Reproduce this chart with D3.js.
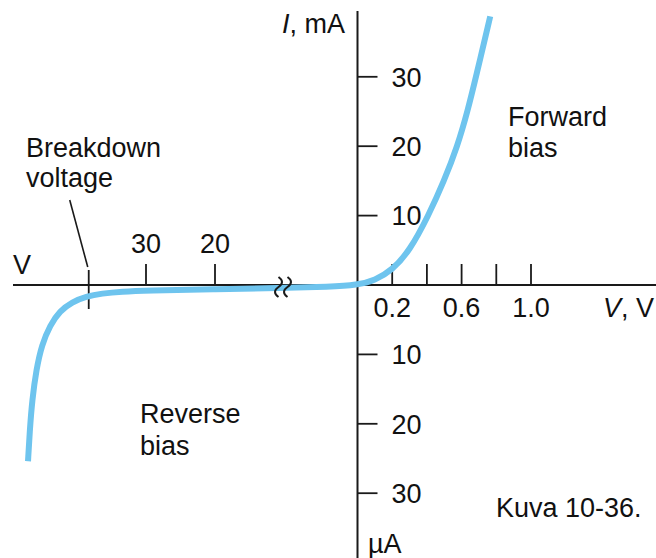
<!DOCTYPE html>
<html>
<head>
<meta charset="utf-8">
<script src="https://cdn.jsdelivr.net/npm/d3@7"></script>
<style>
  html, body { margin: 0; padding: 0; background: #fff; }
  svg { display: block; }
  text { font-family: "Liberation Sans", Arial, Helvetica, sans-serif; font-size: 27px; fill: #111; }
</style>
</head>
<body>
<svg id="chart" width="656" height="558"></svg>
<script>
// ---- data ----
// forward bias: voltage (V) and current (mA)
const fwdV = [0, 0.1, 0.2, 0.3, 0.409, 0.499, 0.576, 0.634, 0.683, 0.765];
const fwdI = [0, 0.65, 2.15, 4.9, 10, 15, 20, 25, 30, 38.7];
// reverse bias: voltage (V) and current (µA)
const revV = [-47.1, -46.84, -46.5, -45.9, -45.1, -43.9, -42.5, -40.7, -38.7, -36.4, -33.5, -30.0, -20.3, -10.5, -3.8, 0];
const revI = [-25.4, -20.9, -16.6, -12.2, -8.6, -5.8, -3.75, -2.45, -1.65, -1.22, -0.94, -0.79, -0.6, -0.43, -0.25, 0];
// ticks
const yTicksPos = [10, 20, 30];
const yTicksNeg = [-10, -20, -30];
const xTicksPos = [0.2, 0.4, 0.6, 0.8, 1.0];
const xLabelsPos = [0.2, 0.6, 1.0];
const xTicksNeg = [-30, -20];
const breakdownV = -38.3;
const breakV = -10;

const svg = d3.select("#chart");

// ---- scales ----
const xF = d3.scaleLinear().domain([0, 1]).range([357.5, 531]);
const xR = d3.scaleLinear().domain([-30, -20, -10, 0]).range([146, 215, 284, 357.5]);
const yF = d3.scaleLinear().domain([0, 10]).range([285, 215.6]);
const yR = d3.scaleLinear().domain([0, -10]).range([285, 354.4]);

const x0 = xF(0), y0 = yF(0);
const ink = "#1a1a1a";

// ---- axes ----
svg.append("line").attr("x1", x0).attr("x2", x0).attr("y1", 11).attr("y2", 558)
  .attr("stroke", ink).attr("stroke-width", 2);
svg.append("line").attr("x1", 13).attr("x2", 656).attr("y1", y0).attr("y2", y0)
  .attr("stroke", ink).attr("stroke-width", 2);

// y ticks (mA up, µA down)
const yTickData = yTicksPos.map(v => ({ y: yF(v), t: String(v) }))
  .concat(yTicksNeg.map(v => ({ y: yR(v), t: String(-v) })));
svg.selectAll(".ytick").data(yTickData).join("line")
  .attr("x1", x0).attr("x2", x0 + 20).attr("y1", d => d.y).attr("y2", d => d.y)
  .attr("stroke", ink).attr("stroke-width", 1.8);
svg.selectAll(".ylab").data(yTickData).join("text")
  .attr("x", x0 + 34).attr("y", d => d.y).attr("dy", "0.36em").text(d => d.t);

// x ticks positive
svg.selectAll(".xtp").data(xTicksPos).join("line")
  .attr("x1", d => xF(d)).attr("x2", d => xF(d)).attr("y1", y0).attr("y2", y0 - 21)
  .attr("stroke", ink).attr("stroke-width", 1.8);
svg.selectAll(".xlp").data(xLabelsPos).join("text")
  .attr("x", d => xF(d)).attr("y", y0 + 32).attr("text-anchor", "middle")
  .text(d => d.toFixed(1));

// x ticks negative
svg.selectAll(".xtn").data(xTicksNeg).join("line")
  .attr("x1", d => xR(d)).attr("x2", d => xR(d)).attr("y1", y0).attr("y2", y0 - 21)
  .attr("stroke", ink).attr("stroke-width", 1.8);
svg.selectAll(".xln").data(xTicksNeg).join("text")
  .attr("x", d => xR(d)).attr("y", y0 - 32).attr("text-anchor", "middle")
  .text(d => String(-d));

// breakdown tick and leader
const bx = xR(breakdownV);
svg.append("line").attr("x1", bx).attr("x2", bx).attr("y1", y0 - 15).attr("y2", y0 + 24)
  .attr("stroke", ink).attr("stroke-width", 1.8);
svg.append("line").attr("x1", bx - 1).attr("x2", bx - 19).attr("y1", y0 - 18).attr("y2", y0 - 85)
  .attr("stroke", ink).attr("stroke-width", 1.6);

// ---- curve ----
const pts = revV.map((v, i) => [xR(v), yR(revI[i])])
  .concat(fwdV.slice(1).map((v, i) => [xF(v), yF(fwdI[i + 1])]));
svg.append("path")
  .attr("d", d3.line().curve(d3.curveBasis)(pts))
  .attr("fill", "none").attr("stroke", "#6ec4ee").attr("stroke-width", 6)
  .attr("stroke-linecap", "butt");

// axis break marks
const brx = xR(breakV);
[-4.5, 4.5].forEach(o => {
  const cx = brx + o;
  svg.append("path")
    .attr("d", `M${cx - 1},${y0 - 8} q7,5 0,10 t0,10`)
    .attr("fill", "none").attr("stroke", ink).attr("stroke-width", 2);
});

// ---- labels ----
const t = (x, y, s, anchor) => svg.append("text").attr("x", x).attr("y", y)
  .attr("text-anchor", anchor || "start").text(s);

const il = svg.append("text").attr("x", 282).attr("y", 33);
il.append("tspan").attr("font-style", "italic").text("I");
il.append("tspan").text(", mA");

const vl = svg.append("text").attr("x", 603).attr("y", 317);
vl.append("tspan").attr("font-style", "italic").text("V");
vl.append("tspan").text(", V");

t(13, 274, "V");
t(368, 553, "µA");
t(508, 126, "Forward");
t(508, 157, "bias");
t(140, 423, "Reverse");
t(140, 455, "bias");
t(26, 157, "Breakdown");
t(26, 187, "voltage");
t(496, 517, "Kuva 10-36.");
</script>
</body>
</html>
